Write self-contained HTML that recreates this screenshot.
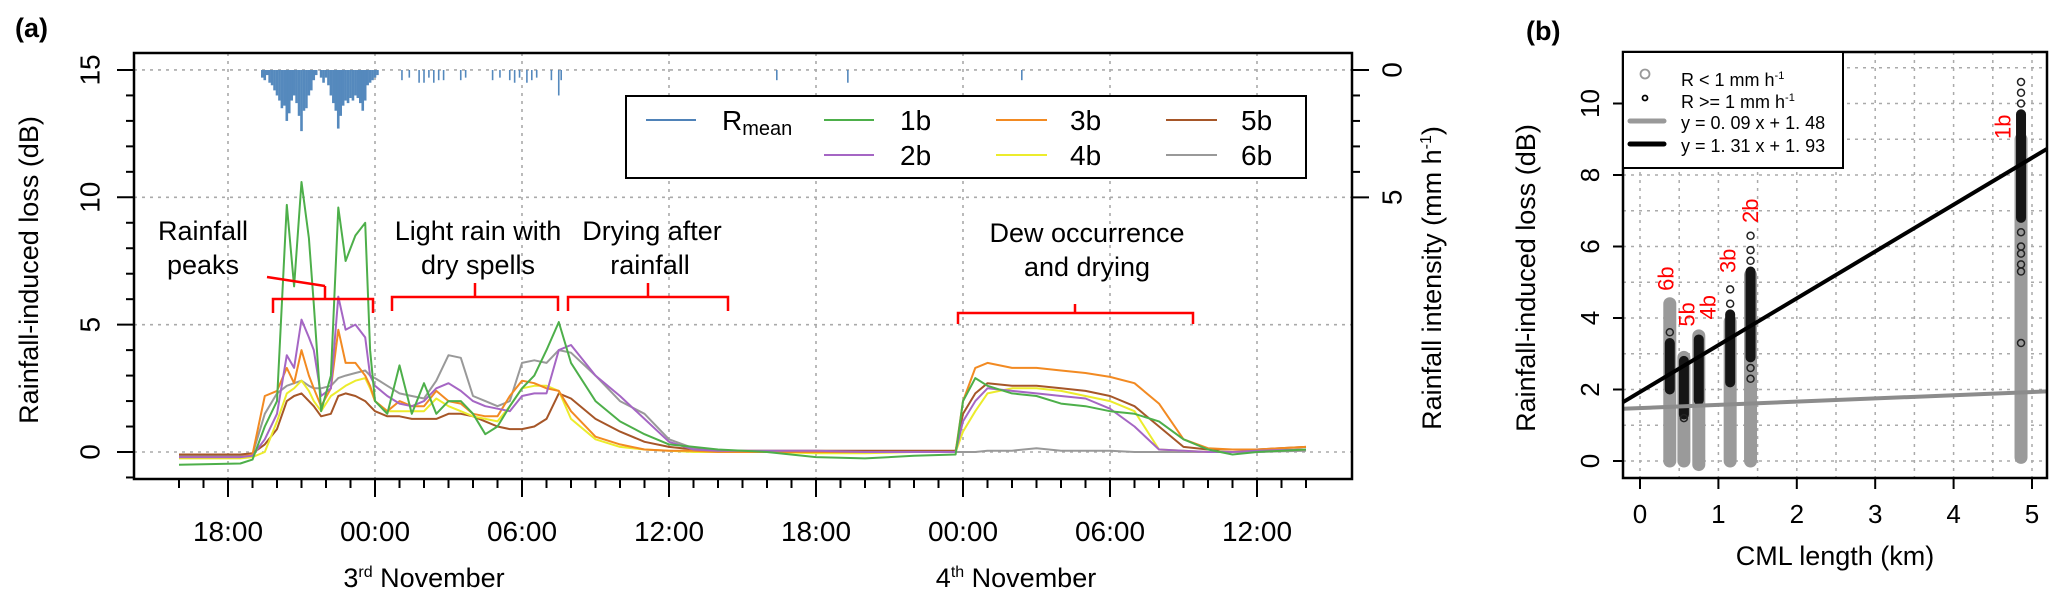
<!DOCTYPE html>
<html><head><meta charset="utf-8"><style>
html,body{margin:0;padding:0;background:#fff;}
svg{display:block;font-family:"Liberation Sans",Arial,sans-serif;}
</style></head><body>
<svg id="fig" width="2067" height="605" viewBox="0 0 2067 605" xmlns="http://www.w3.org/2000/svg">
<g id="pa"></g>
<g id="pb"></g>
</svg>
<script>
// ---------- Panel (a) data ----------
const times=[-8,-5.5,-5,-4.5,-4,-3.6,-3.3,-3,-2.7,-2.5,-2.2,-1.8,-1.5,-1.2,-0.8,-0.4,-0.2,0,0.5,1,1.5,2,2.5,3,3.5,4,4.5,5,5.5,6,6.5,7,7.5,8,9,10,11,12,13,14,16,18,20,22,23.7,24,24.5,25,26,27,28,29,30,31,32,33,34,35,36,38];
const s1b=[-0.5,-0.45,-0.3,1.0,2.0,9.7,6.5,10.6,8.4,5.8,1.6,3.0,9.6,7.5,8.5,9.0,4.0,2.0,1.5,3.4,1.5,2.7,1.5,2.0,2.0,1.5,0.7,1.0,1.8,2.5,3.0,4.0,5.1,3.5,2.0,1.2,0.7,0.3,0.2,0.1,0.0,-0.2,-0.25,-0.15,-0.1,2.0,2.9,2.6,2.3,2.2,1.9,1.8,1.6,1.5,1.2,0.5,0.1,-0.1,0,0.1];
const s2b=[-0.2,-0.2,-0.15,0.5,1.5,3.8,3.3,5.2,4.5,4.0,2.2,2.5,6.1,4.8,5.0,4.5,3.0,2.6,2.2,1.9,1.8,2.0,2.5,2.7,2.4,2.0,1.8,1.7,1.6,2.2,2.3,2.3,4.0,4.2,3.0,2.2,1.3,0.4,0.1,0.05,0.05,0.05,0,0,0,1.2,2.0,2.5,2.4,2.3,2.2,2.1,1.7,1.0,0.1,0.05,0,0,0.05,0.1];
const s3b=[-0.2,-0.2,-0.1,2.2,2.4,3.3,2.7,4.0,3.0,2.5,1.8,2.5,4.8,3.5,3.5,3.0,2.6,2.0,1.6,2.0,1.8,1.8,2.4,2.0,1.9,1.5,1.4,1.4,2.2,2.8,2.7,2.5,2.4,1.6,0.6,0.3,0.1,0.05,0.05,0,0,0,0,0,0,2.0,3.3,3.5,3.3,3.3,3.2,3.1,2.95,2.7,1.9,0.5,0.15,0.1,0.1,0.2];
const s4b=[-0.25,-0.25,-0.2,0,1.2,2.3,2.5,2.8,2.4,2.0,1.6,2.2,2.4,2.6,2.8,2.9,2.5,2.0,1.6,1.6,1.6,1.6,2.1,1.8,1.6,1.4,1.3,1.2,1.8,2.5,2.6,2.6,2.4,1.3,0.5,0.2,0.1,0.05,0,0,0,-0.05,-0.05,0,0,0.8,1.6,2.3,2.5,2.5,2.4,2.2,2.0,1.6,0.1,0.05,0,0,0.05,0.1];
const s5b=[-0.1,-0.1,-0.05,0.3,0.9,2.0,2.2,2.3,2.0,1.8,1.4,1.5,2.2,2.3,2.2,2.0,1.8,1.6,1.4,1.4,1.3,1.3,1.3,1.5,1.5,1.4,1.2,1.0,0.9,0.9,1.0,1.3,2.3,2.1,1.3,0.8,0.4,0.2,0.1,0.05,0.05,0.05,0.05,0.05,0.05,1.5,2.3,2.7,2.6,2.6,2.5,2.4,2.2,1.8,1.0,0.2,0.1,0.1,0.1,0.2];
const s6b=[-0.15,-0.15,-0.1,1.5,2.3,2.6,2.7,2.8,2.6,2.5,2.5,2.6,2.9,3.0,3.1,3.2,3.0,2.9,2.6,2.3,2.2,2.1,2.8,3.8,3.7,2.2,2.0,1.8,2.0,3.5,3.6,3.5,4.0,3.9,3.0,2.0,1.5,0.5,0.15,0.05,0,0,0,0,0,0,0,0.05,0.05,0.15,0.05,0.05,0.05,0,0,0,0,0,0,0.05];
const rainMainStart=-4.6;
const rainMain=[0.3,0.4,0.2,0.5,0.6,0.8,1.0,1.2,1.5,1.4,2.0,1.7,1.2,1.0,1.3,1.8,2.4,1.6,1.5,1.0,0.8,0.4,0.2,0,0.3,0.5,0.3,0.6,1.0,1.3,1.6,2.3,1.8,1.4,1.2,1.3,1.1,1.2,1.0,1.1,1.3,1.6,1.2,0.6,0.5,0.4,0.3,0.2];
const rainSparseTimes=[1.1,1.4,1.8,2.0,2.2,2.4,2.6,2.8,3.5,3.7,4.8,5.1,5.5,5.7,5.9,6.2,6.4,6.6,7.2,7.5,7.6,16.4,19.3,26.4];
const rainSparseValues=[0.4,0.3,0.5,0.5,0.3,0.5,0.4,0.4,0.4,0.3,0.4,0.3,0.4,0.5,0.3,0.5,0.4,0.3,0.4,1.0,0.4,0.4,0.5,0.4];
const xTickLabels=["18:00","00:00","06:00","12:00","18:00","00:00","06:00","12:00"];
const xTickHours=[-6,0,6,12,18,24,30,36];
const yTicksA=[0,5,10,15];
const rainTicks=[0,5];

// ---------- Panel (b) data ----------
const cmlNames=["6b","5b","4b","3b","2b","1b"];
const cmlLengths=[0.38,0.56,0.75,1.15,1.41,4.86];
const grayMin=[0,0,-0.1,0,0,0.1];
const grayMax=[4.4,2.9,3.5,3.9,5.2,9.0];
const blackMin=[2.0,1.3,1.7,2.2,2.9,6.8];
const blackMax=[3.3,2.8,3.4,4.1,5.3,9.7];
const outlierX=[0.38,0.56,1.15,1.15,1.41,1.41,1.41,1.41,1.41,4.86,4.86,4.86,4.86,4.86,4.86,4.86,4.86,4.86];
const outlierY=[3.6,1.2,4.4,4.8,5.6,5.9,6.3,2.3,2.6,10.6,10.3,10.0,6.4,5.8,5.5,5.3,3.3,6.0];
const fitSlopes=[0.09,1.31];
const fitIntercepts=[1.48,1.93];
const labelYb=[5.1,4.1,4.3,5.6,7.0,9.35];

const NS="http://www.w3.org/2000/svg";
function mk(tag,attrs,parent){const e=document.createElementNS(NS,tag);for(const k in attrs)e.setAttribute(k,attrs[k]);parent.appendChild(e);return e;}
function txt(str,attrs,parent){const e=mk('text',attrs,parent);e.textContent=str;return e;}

// ---------- Panel (a) ----------
const pa=document.getElementById('pa');
const A={l:134,r:1352,t:53,b:479};
const xa=t=>375+t*24.5;
const ya=v=>452-v*25.47;
const yr=r=>70+r*25.47;
const gridA=mk('g',{},pa);

yTicksA.forEach(v=>{mk('line',{x1:A.l,x2:A.r,y1:ya(v),y2:ya(v),stroke:'#aaa','stroke-width':1.6,'stroke-dasharray':'3,5'},gridA);});
xTickHours.forEach(h=>{mk('line',{x1:xa(h),x2:xa(h),y1:A.t,y2:A.b,stroke:'#aaa','stroke-width':1.6,'stroke-dasharray':'3,5'},gridA);});
const rainG=mk('g',{fill:'#5589bd'},pa);

rainMain.forEach((v,i)=>{const t=rainMainStart+i*0.1;if(v>0){mk('rect',{x:xa(t)-1.3,y:yr(0),width:2.6,height:yr(v)-yr(0)},rainG);}});
rainSparseTimes.forEach((t,i)=>{mk('rect',{x:xa(t)-0.8,y:yr(0),width:1.6,height:yr(rainSparseValues[i])-yr(0)},rainG);});
const series=[["series-1b",s1b,"#4daf4a"],["series-2b",s2b,"#a566c4"],["series-3b",s3b,"#f28a22"],["series-4b",s4b,"#ecec2c"],["series-5b",s5b,"#a65628"],["series-6b",s6b,"#999999"]];
const drawOrder=[5,4,3,2,1,0];
drawOrder.forEach(si=>{const [nm,vals,col]=series[si];
 const d=vals.map((v,i)=>(i?'L':'M')+xa(times[i]).toFixed(1)+','+ya(v).toFixed(1)).join('');
 const p=mk('path',{d:d,fill:'none',stroke:col,'stroke-width':2,'stroke-linejoin':'round'},pa);
 
 
});
mk('rect',{x:A.l,y:A.t,width:A.r-A.l,height:A.b-A.t,fill:'none',stroke:'#000','stroke-width':2.5},pa);
for(let v=-1;v<=15;v++){const major=v%5===0;mk('line',{x1:A.l,x2:A.l-(major?17:8),y1:ya(v),y2:ya(v),stroke:'#000','stroke-width':2},pa);}
yTicksA.forEach(v=>{const t=txt(String(v),{x:90,y:ya(v),'font-size':28,'text-anchor':'middle','dominant-baseline':'central',transform:`rotate(-90 90 ${ya(v)})`},pa);});
for(let r=0;r<=5;r++){mk('line',{x1:A.r,x2:A.r+(r%5===0?17:8),y1:yr(r),y2:yr(r),stroke:'#000','stroke-width':2},pa);}
rainTicks.forEach(r=>{const t=txt(String(r),{x:1392,y:yr(r),'font-size':28,'text-anchor':'middle','dominant-baseline':'central',transform:`rotate(-90 1392 ${yr(r)})`},pa);});
for(let h=-8;h<=38;h++){const major=xTickHours.includes(h);mk('line',{x1:xa(h),x2:xa(h),y1:A.b,y2:A.b+(major?18:9),stroke:'#000','stroke-width':2},pa);}
xTickLabels.forEach((s,i)=>{const t=txt(s,{x:xa(xTickHours[i]),y:541,'font-size':28,'text-anchor':'middle'},pa);});
</script>
<script>
(function(){
const pa=document.getElementById('pa');
function add(html){pa.insertAdjacentHTML('beforeend',html);}
add(`<text x="15" y="37" font-size="27" font-weight="bold">(a)</text>
<text x="424" y="587" font-size="27" text-anchor="middle">3<tspan font-size="16" dy="-10">rd</tspan><tspan dy="10"> November</tspan></text>
<text x="1016" y="587" font-size="27" text-anchor="middle">4<tspan font-size="16" dy="-10">th</tspan><tspan dy="10"> November</tspan></text>
<text x="38" y="270" font-size="27" text-anchor="middle" transform="rotate(-90 38 270)">Rainfall-induced loss (dB)</text>
<text x="1441" y="278" font-size="27" text-anchor="middle" transform="rotate(-90 1441 278)">Rainfall intensity (mm h<tspan font-size="16" dy="-10">-1</tspan><tspan dy="10">)</tspan></text>
<g>
<rect x="626" y="96" width="680" height="82" fill="#fff" stroke="#000" stroke-width="2"/>
<line x1="646" x2="696" y1="120" y2="120" stroke="#4f82b8" stroke-width="2"/>
<text x="722" y="130" font-size="28">R<tspan font-size="20" dy="5">mean</tspan></text>
<line x1="824" x2="874" y1="120" y2="120" stroke="#4daf4a" stroke-width="2"/><text x="900" y="130" font-size="28">1b</text>
<line x1="824" x2="874" y1="155" y2="155" stroke="#a566c4" stroke-width="2"/><text x="900" y="165" font-size="28">2b</text>
<line x1="996" x2="1047" y1="120" y2="120" stroke="#f28a22" stroke-width="2"/><text x="1070" y="130" font-size="28">3b</text>
<line x1="996" x2="1047" y1="155" y2="155" stroke="#ecec2c" stroke-width="2"/><text x="1070" y="165" font-size="28">4b</text>
<line x1="1166" x2="1217" y1="120" y2="120" stroke="#a65628" stroke-width="2"/><text x="1241" y="130" font-size="28">5b</text>
<line x1="1166" x2="1217" y1="155" y2="155" stroke="#999" stroke-width="2"/><text x="1241" y="165" font-size="28">6b</text>
</g>
<g font-size="27" text-anchor="middle">
<text x="203" y="240">Rainfall</text><text x="203" y="274">peaks</text>
<text x="478" y="240">Light rain with</text><text x="478" y="274">dry spells</text>
<text x="652" y="240">Drying after</text><text x="650" y="274">rainfall</text>
<text x="1087" y="242">Dew occurrence</text><text x="1087" y="276">and drying</text>
</g>
<g fill="none" stroke="#f00" stroke-width="2.5">
<path d="M273,313 V299 H373 V313 M325,299 V286"/><path d="M267,277 L325,286"/>
<path d="M392,311 V297 H558 V311 M475,297 V283"/>
<path d="M568,311 V297 H728 V311 M648,297 V283"/>
<path d="M958,324 V313 H1193 V324 M1075,313 V304"/>
</g>`);
})();
</script>
<script>
(function(){
const pb=document.getElementById('pb');
const B={l:1623,r:2047,t:52,b:478};
const xb=v=>1640+v*78.4;
const yb=v=>461-v*35.75;
const labelDx=[-4,3,9,-2,0,-18];
const g=mk('g',{},pb);

for(let v=0;v<=5;v+=0.5){mk('line',{x1:xb(v),x2:xb(v),y1:B.t,y2:B.b,stroke:'#aaa','stroke-width':1.5,'stroke-dasharray':'3,5'},g);}
for(let v=0;v<=11;v++){mk('line',{x1:B.l,x2:B.r,y1:yb(v),y2:yb(v),stroke:'#aaa','stroke-width':1.5,'stroke-dasharray':'3,5'},g);}
cmlLengths.forEach((x,i)=>{
 const gl=mk('line',{x1:xb(x),x2:xb(x),y1:yb(grayMin[i]),y2:yb(grayMax[i]),stroke:'#9a9a9a','stroke-width':13,'stroke-linecap':'round'},pb);
 
 
 const bl=mk('line',{x1:xb(x),x2:xb(x),y1:yb(blackMin[i]),y2:yb(blackMax[i]),stroke:'#151515','stroke-width':10,'stroke-linecap':'round'},pb);
 
 
});
outlierX.forEach((x,i)=>{const c=mk('circle',{cx:xb(x),cy:yb(outlierY[i]),r:3.5,fill:'none',stroke:'#222','stroke-width':1.5},pb);
 
 });
const fitCols=['#8c8c8c','#000'];
fitSlopes.forEach((m,i)=>{const x0=-0.22,x1=5.19;
 const l=mk('line',{x1:xb(x0),y1:yb(fitIntercepts[i]+m*x0),x2:xb(x1),y2:yb(fitIntercepts[i]+m*x1),stroke:fitCols[i],'stroke-width':4},pb);
 
 });
cmlLengths.forEach((x,i)=>{const X=xb(x)+labelDx[i],Y=yb(labelYb[i]);
 const t=txt(cmlNames[i],{x:X,y:Y,'font-size':22,fill:'#f00','text-anchor':'middle','dominant-baseline':'central',transform:`rotate(-90 ${X} ${Y})`},pb);
 
 });
mk('rect',{x:B.l,y:B.t,width:B.r-B.l,height:B.b-B.t,fill:'none',stroke:'#000','stroke-width':2.5},pb);
for(let v=0;v<=10;v+=2){mk('line',{x1:B.l,x2:B.l-10,y1:yb(v),y2:yb(v),stroke:'#000','stroke-width':2},pb);
 const t=txt(String(v),{x:1590,y:yb(v),'font-size':26,'text-anchor':'middle','dominant-baseline':'central',transform:`rotate(-90 1590 ${yb(v)})`},pb);
 }
for(let v=0;v<=5;v++){mk('line',{x1:xb(v),x2:xb(v),y1:B.b,y2:B.b+11,stroke:'#000','stroke-width':2},pb);
 const t=txt(String(v),{x:xb(v),y:523,'font-size':26,'text-anchor':'middle'},pb);
 }
pb.insertAdjacentHTML('beforeend',`<text x="1526" y="40" font-size="27" font-weight="bold">(b)</text>
<text x="1835" y="565" font-size="27" text-anchor="middle">CML length (km)</text>
<text x="1535" y="278" font-size="27" text-anchor="middle" transform="rotate(-90 1535 278)">Rainfall-induced loss (dB)</text>
<g>
<rect x="1623" y="52" width="220" height="116" fill="#fff" stroke="#000" stroke-width="2"/>
<circle cx="1645" cy="74" r="4.5" fill="none" stroke="#999" stroke-width="1.8"/>
<circle cx="1645" cy="98" r="2.5" fill="none" stroke="#000" stroke-width="1.8"/>
<line x1="1630" x2="1664" y1="121" y2="121" stroke="#999" stroke-width="5" stroke-linecap="round"/>
<line x1="1630" x2="1664" y1="144" y2="144" stroke="#000" stroke-width="5" stroke-linecap="round"/>
<text x="1681" y="86" font-size="18">R &lt; 1 mm h<tspan font-size="11" dy="-7">-1</tspan></text>
<text x="1681" y="108" font-size="18">R &gt;= 1 mm h<tspan font-size="11" dy="-7">-1</tspan></text>
<text x="1681" y="129" font-size="18">y = 0. 09 x + 1. 48</text>
<text x="1681" y="152" font-size="18">y = 1. 31 x + 1. 93</text>
</g>`);
})();
</script>
</body></html>
